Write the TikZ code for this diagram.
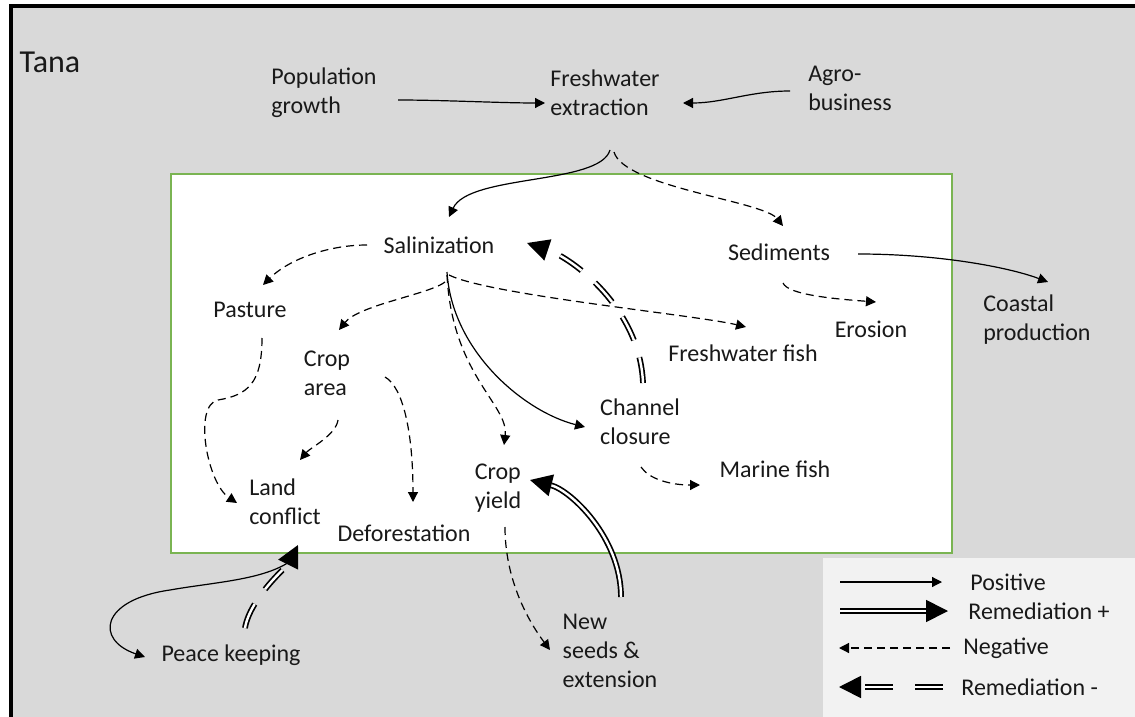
\documentclass[tikz,border=0pt]{standalone}
\usepackage{fontspec}
\setmainfont{Carlito}
\usetikzlibrary{arrows.meta,positioning}
\definecolor{bggray}{RGB}{217,217,217}
\definecolor{legendgray}{RGB}{242,242,242}
\definecolor{boxgreen}{RGB}{122,180,82}

\begin{document}
\begin{tikzpicture}[x=0.5pt, y=-0.5pt,
    every node/.style={font=\fontsize{12}{14.5}\selectfont, align=left, inner sep=0pt, text=black!90},
    posarrow/.style={line width=0.6pt, -{Triangle[length=5pt,width=5pt]}},
    negarrow/.style={line width=0.6pt, dash pattern=on 4pt off 2.5pt, -{Triangle[length=5pt,width=5pt]}},
    remplus/.style={line width=0.85pt, double, double distance=1.2pt, -{Triangle[length=11pt,width=11pt]}},
    remminus/.style={remplus, dash pattern=on 13pt off 9pt}]
    \useasboundingbox (0,0) rectangle (1135,717);
    \clip (0,0) rectangle (1135,717);
    \draw[line width=1.6pt, fill=bggray] (11,6) rectangle (1160,740);
    \draw[boxgreen, line width=0.8pt, fill=white] (171,174) rectangle (952,553);
    \fill[legendgray] (823,558) rectangle (1160,740);

    \node[font=\fontsize{16}{18}\selectfont] (tana) at (50,62) {Tana};
    \node (pop) at (324,93) {Population\\growth};
    \node (fw) at (605,93) {Freshwater\\extraction};
    \node (agro) at (850,88) {Agro-\\business};
    \node (sal) at (439,245) {Salinization};
    \node (sed) at (779,252) {Sediments};
    \node (past) at (250,310) {Pasture};
    \node (croparea) at (327,373) {Crop\\area};
    \node (ffish) at (743,353) {Freshwater fish};
    \node (eros) at (871,329) {Erosion};
    \node (coast) at (1037,320) {Coastal\\production};
    \node (chan) at (640,422) {Channel\\closure};
    \node (marine) at (775,469) {Marine fish};
    \node (cyield) at (498,488) {Crop\\yield};
    \node (land) at (285,502) {Land\\conflict};
    \node (defor) at (404,533) {Deforestation};
    \node (peace) at (231,655) {Peace keeping};
    \node (seeds) at (610,651) {New\\seeds \&\\extension};

    % drivers
    \draw[posarrow] ([shift={(74,7)}]pop.center) .. controls +(45,0) and +(-45,0) .. ([shift={(-60,10)}]fw.center);
    \draw[posarrow] ([shift={(-60,3)}]agro.center) .. controls +(-40,0) and +(40,0) .. ([shift={(78,10)}]fw.center);
    \draw[posarrow] ([shift={(5,57)}]fw.center) .. controls +(-10,35) and +(20,-43) .. ([shift={(10,-28)}]sal.center);
    \draw[negarrow] ([shift={(9,59)}]fw.center) .. controls +(10,35) and +(-20,-25) .. ([shift={(4,-26)}]sed.center);

    % salinization
    \draw[negarrow] ([shift={(-72,0)}]sal.center) .. controls +(-40,0) and +(25,-25) .. ([shift={(13,-25)}]past.center);
    \draw[negarrow] ([shift={(6,37)}]sal.center) .. controls +(-15,12) and +(20,-25) .. ([shift={(12,-43)}]croparea.center);
    \draw[negarrow] ([shift={(10,30)}]sal.center) .. controls +(40,20) and +(-50,-12) .. ([shift={(3,-26)}]ffish.center);
    \draw[negarrow] ([shift={(8,30)}]sal.center) .. controls +(5,100) and +(5,-40) .. ([shift={(6,-43)}]cyield.center);
    \draw[posarrow] ([shift={(8,27)}]sal.center) .. controls +(5,80) and +(-60,-15) .. ([shift={(-55,5)}]chan.center);
    \draw[remminus] ([shift={(3,-39)}]chan.center) .. controls +(-3,-75) and +(45,15) .. ([shift={(88,-2)}]sal.center);

    % sediments
    \draw[posarrow] ([shift={(79,2)}]sed.center) .. controls +(80,0) and +(-40,-15) .. ([shift={(11,-38)}]coast.center);
    \draw[negarrow] ([shift={(4,31)}]sed.center) .. controls +(5,12) and +(-40,-3) .. ([shift={(5,-27)}]eros.center);

    % land use
    \draw[negarrow] ([shift={(12,28)}]past.center) .. controls +(0,45) and +(30,-5) .. ++(-44,62)
        .. controls +(-25,5) and +(-30,-20) .. ([shift={(-48,1)}]land.center);
    \draw[negarrow] ([shift={(11,47)}]croparea.center) .. controls +(-2,15) and +(10,-12) .. ([shift={(15,-42)}]land.center);
    \draw[negarrow] ([shift={(58,4)}]croparea.center) .. controls +(18,10) and +(0,-70) .. ([shift={(9,-31)}]defor.center);
    \draw[negarrow] ([shift={(1,45)}]chan.center) .. controls +(8,12) and +(-30,0) .. ([shift={(-75,16)}]marine.center);
    \draw[negarrow] ([shift={(7,39)}]cyield.center) .. controls +(0,60) and +(-15,-20) .. ([shift={(-60,-1)}]seeds.center);

    % remediation
    \draw[remplus] ([shift={(11,-54)}]seeds.center) .. controls +(0,-60) and +(40,10) .. ([shift={(32,-8)}]cyield.center);
    \draw[posarrow] ([shift={(7,58)}]land.center) .. controls +(-27,20) and +(45,-8) .. ++(-122,30)
        .. controls +(-70,10) and +(-50,-17) .. ([shift={(-86,2)}]peace.center);
    \draw[remminus] ([shift={(14,-27)}]peace.center) .. controls +(5,-30) and +(-10,20) .. ([shift={(13,43)}]land.center);

    % legend
    \node[anchor=west] (lpos) at (970,582) {Positive};
    \node[anchor=west] (lremp) at (968,611) {Remediation +};
    \node[anchor=west] (lneg) at (963,648) {Negative};
    \node[anchor=west] (lremm) at (961,687) {Remediation -};
    \draw[posarrow] ([xshift=-65pt]lpos.west) -- ([xshift=-14pt]lpos.west);
    \draw[remplus] ([xshift=-64pt]lremp.west) -- ([xshift=-10pt]lremp.west);
    \draw[negarrow] ([xshift=-6.5pt]lneg.west) -- ([xshift=-62pt]lneg.west);
    \draw[remminus, dash pattern=on 14pt off 11pt] ([xshift=-9pt]lremm.west) -- ([xshift=-61pt]lremm.west);
\end{tikzpicture}
\end{document}
